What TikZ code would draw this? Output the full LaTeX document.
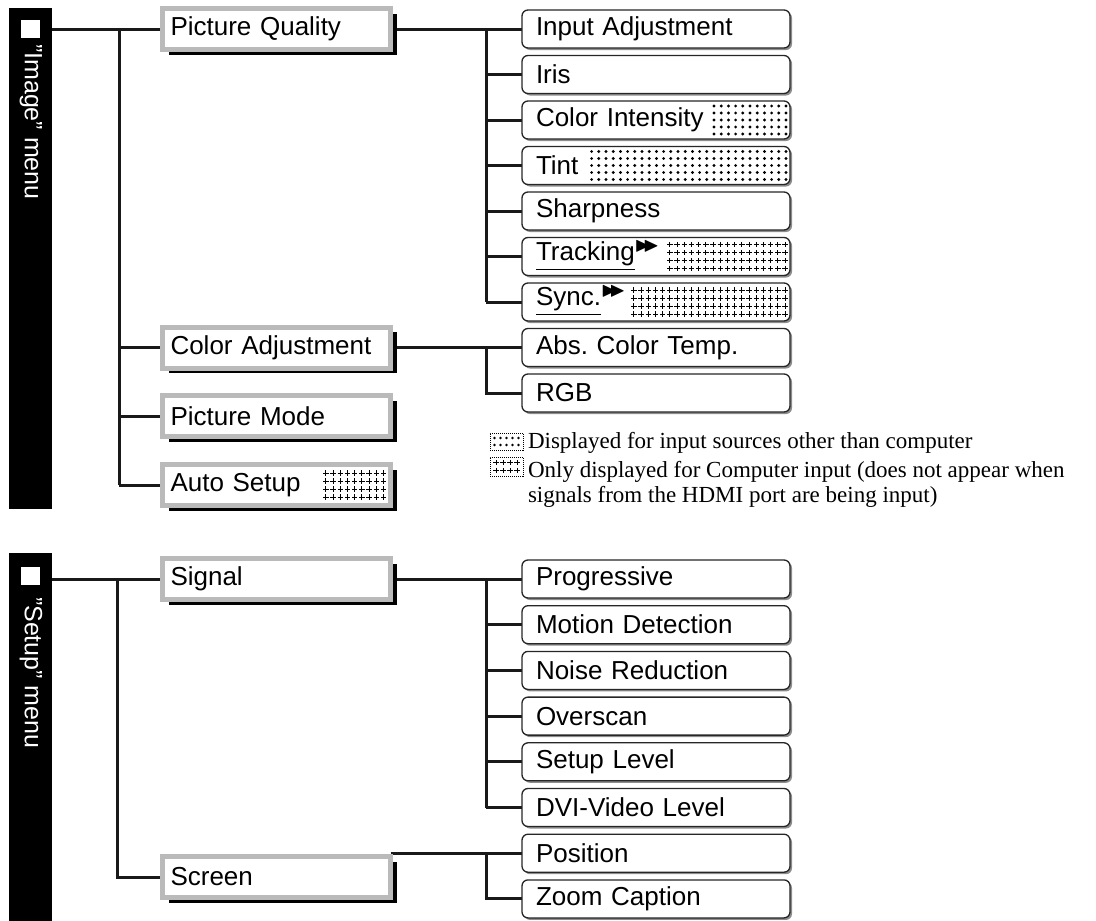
\documentclass[tikz,border=0pt]{standalone}
\usepackage{amssymb}
\usepackage{graphicx}
\usepackage{fontspec}
\setmainfont{Liberation Sans}
\newfontfamily\legendfont{Liberation Serif}
\usetikzlibrary{shadows, positioning, backgrounds}
\frenchspacing

% dot screen, columns counted leftwards from the east side of a box
\newcommand{\dotgrid}[3]{%
  \begin{scope}[shift={(#1.east)}]
    \foreach \j in {1,...,#2}
      \foreach \r in {-14,-7,0,7,14}
        \fill ({#3-7.2*(\j-1)},\r) circle (1.6pt);
  \end{scope}}
% plus screen, same idea
\newcommand{\plusgrid}[4]{%
  \begin{scope}[shift={(#1.east)}]
    \foreach \j in {1,...,#2}
      \foreach \r in {#3}
        \draw[line width=0.9pt] ({#4-7.2*(\j-1)-2.7},\r) -- ++(5.4,0)
          ({#4-7.2*(\j-1)},\r-2.7) -- ++(0,5.4);
  \end{scope}}
\newcommand{\ffwd}{\smash{\raisebox{9pt}{\scalebox{0.8}{$\blacktriangleright\mkern-7mu\blacktriangleright$}}}}

\begin{document}
\begin{tikzpicture}[
		x=1pt, y=-1pt,
		every node/.style={inner sep=0pt, outer sep=0pt},
		menubar/.style={fill=black, minimum width=43pt},
		barmark/.style={fill=white, minimum width=19pt, minimum height=18pt},
		bartext/.style={
				text=white, rotate=-90, anchor=west,
				font=\fontsize{25}{28}\selectfont
			},
		mainbox/.style={
				draw=black!27, line width=5pt, fill=white,
				text width=212pt, inner xsep=8pt, minimum height=41pt, align=left,
				font=\fontsize{26}{28}\selectfont,
				drop shadow={shadow xshift=6pt, shadow yshift=-5pt, fill=black, opacity=1}
			},
		subbox/.style={
				draw=black!85, line width=1.3pt, fill=white, rounded corners=6pt,
				text width=240pt, inner xsep=14pt, minimum height=38pt, align=left,
				font=\fontsize{26}{28}\selectfont,
				drop shadow={shadow xshift=2pt, shadow yshift=-2pt, fill=black!45, opacity=1}
			},
		keybox/.style={draw, densely dotted, line width=1pt, minimum width=33pt},
		keytext/.style={anchor=base west, font=\legendfont\fontsize{23}{25}\selectfont},
		link/.style={draw=black!90, line width=3pt},
	]
	\useasboundingbox (0,0) rectangle (1096,921);

	% "Image" menu
	\node[menubar, minimum height=501pt] (imgbar) at (30,258.5) {};
	\node[barmark] (imgmark) at (30.5,29) {};
	\node[bartext] (imglabel) at (31,44) {"Image" menu};

	\node[mainbox] (pq) at (276.5,29) {Picture Quality};
	\node[mainbox] (ca) at (276.5,347.5) {Color Adjustment};
	\node[mainbox] (pm) at (276.5,416) {Picture Mode};
	\node[mainbox] (as) at (276.5,485) {Auto Setup};

	\node[subbox] (ia) at (656,29) {Input Adjustment};
	\node[subbox, below=7.5pt of ia] (iris) {Iris};
	\node[subbox, below=7.5pt of iris] (ci) {Color Intensity};
	\node[subbox, below=7.5pt of ci] (tint) {Tint};
	\node[subbox, below=7.5pt of tint] (sharp) {Sharpness};
	\node[subbox, below=7.5pt of sharp] (track) {\underline{Tracking}\ffwd};
	\node[subbox, below=7.5pt of track] (sync) {\underline{Sync.}\ffwd};
	\node[subbox, below=7.5pt of sync] (abs) {Abs. Color Temp.};
	\node[subbox, below=7.5pt of abs] (rgb) {RGB};

	% screens
	\dotgrid{ci}{11}{-4}
	\dotgrid{tint}{28}{-4}
	\plusgrid{track}{17}{-12,-4,4,12}{-5}
	\plusgrid{sync}{22}{-12,-4,4,12}{-5}
	\plusgrid{as}{9}{-12,-4,4,12}{-7}

	% key
	\node[keybox, minimum height=17pt] (keydots) at (506.5,441.5) {};
	\foreach \c in {-12,-6,0,6,12}
		\foreach \r in {-3.5,3.5}
			\fill ([shift={(\c,\r)}]keydots.center) circle (1.3pt);
	\node[keytext] (keydotstext) at (528,448) {Displayed for input sources other than computer};

	\node[keybox, minimum height=19pt] (keyplus) at (506.5,466.5) {};
	\foreach \c in {-10.5,-3.5,3.5,10.5}
		\foreach \r in {-4,4}
			\draw[line width=0.9pt] ([shift={(\c-2.7,\r)}]keyplus.center) -- ++(5.4,0)
			([shift={(\c,\r-2.7)}]keyplus.center) -- ++(0,5.4);
	\node[keytext] (keyplustext) at (528,477) {Only displayed for Computer input (does not appear when};
	\node[keytext] (keyplusmore) at (528,502) {signals from the HDMI port are being input)};

	% "Setup" menu
	\node[menubar, minimum height=368pt] (setbar) at (30,737) {};
	\node[barmark] (setmark) at (30.5,576) {};
	\node[bartext] (setlabel) at (31,597) {"Setup" menu};

	\node[mainbox] (sig) at (276.5,579) {Signal};
	\node[mainbox] (scr) at (276.5,877) {Screen};

	\node[subbox] (prog) at (656,579) {Progressive};
	\node[subbox, below=7.7pt of prog] (motion) {Motion Detection};
	\node[subbox, below=7.7pt of motion] (noise) {Noise Reduction};
	\node[subbox, below=7.7pt of noise] (over) {Overscan};
	\node[subbox, below=7.7pt of over] (setlev) {Setup Level};
	\node[subbox, below=7.7pt of setlev] (dvi) {DVI-Video Level};
	\node[subbox, below=7.7pt of dvi] (pos) {Position};
	\node[subbox, below=7.7pt of pos] (zoom) {Zoom Caption};

	\begin{scope}[on background layer]
		% image menu links
		\draw[link] (imgbar.east |- pq.west) -- (pq.west);
		\coordinate (imgtrunk) at (119,29);
		\draw[link] (imgtrunk) -- (imgtrunk |- as.west);
		\foreach \b in {ca,pm,as}
			\draw[link] (imgtrunk |- \b.west) -- (\b.west);
		\coordinate (pqtrunk) at (486,29);
		\draw[link] (pq.east) -- (ia.west);
		\draw[link] (pqtrunk) -- (pqtrunk |- sync.west);
		\foreach \b in {iris,ci,tint,sharp,track,sync}
			\draw[link] (pqtrunk |- \b.west) -- (\b.west);
		\draw[link] (ca.east) -- (abs.west);
		\draw[link] (pqtrunk |- abs.west) -- (pqtrunk |- rgb.west) -- (rgb.west);

		% setup menu links
		\draw[link] (setbar.east |- sig.west) -- (sig.west);
		\coordinate (settrunk) at (117,579);
		\draw[link] (settrunk) -- (settrunk |- scr.west) -- (scr.west);
		\coordinate (sigtrunk) at (486,579);
		\draw[link] (sig.east) -- (prog.west);
		\draw[link] (sigtrunk) -- (sigtrunk |- dvi.west);
		\foreach \b in {motion,noise,over,setlev,dvi}
			\draw[link] (sigtrunk |- \b.west) -- (\b.west);
		\draw[link] (scr.east |- pos.west) -- (pos.west);
		\draw[link] (sigtrunk |- pos.west) -- (sigtrunk |- zoom.west) -- (zoom.west);
	\end{scope}
\end{tikzpicture}
\end{document}
